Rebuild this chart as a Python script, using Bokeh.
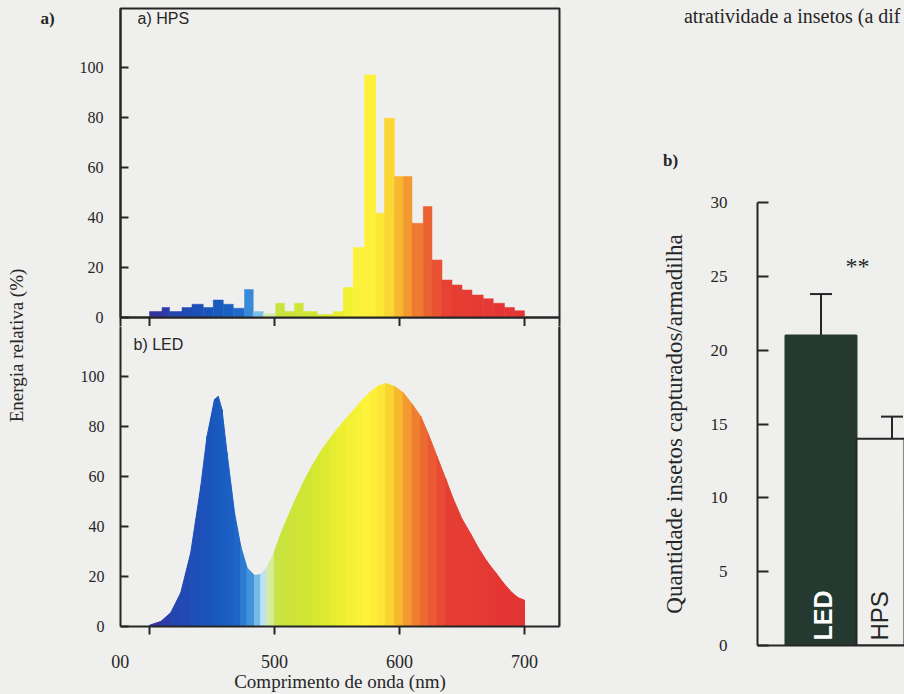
import math
import numpy as np
from bokeh.plotting import figure
from bokeh.layouts import row, column
from bokeh.models import (Range1d, FixedTicker, LinearAxis, Label, ColumnDataSource,
                          Whisker, TeeHead, Span)
from bokeh.core.properties import value
from bokeh.embed import file_html
from bokeh.resources import INLINE

# ---------------- data ----------------
# HPS spectrum: histogram bins (nm edges) and relative energy (%)
hps_edges = [400, 410, 416, 426, 434, 443, 451, 459, 467, 476, 483, 491, 501, 508, 516,
             523, 534, 541, 547, 555, 563, 572, 581, 588, 596, 603, 610, 619, 626, 634,
             642, 650, 658, 667, 675, 684, 692, 700]
hps_energy = [2.4, 4, 2.4, 4, 5.3, 4, 7, 5.3, 3.7, 11.2,
              2.4, 1.5, 5.7, 2.4, 5.7, 2.4, 1.2, 1.2, 2.4, 12,
              28, 97, 41.7, 79.7, 56.4, 56.4, 37.7, 44.4, 23, 15,
              13, 11, 9, 7.5, 5.7, 4, 2.7]

# LED spectrum: wavelength (nm) and relative energy (%)
led_wavelength = [400, 409, 417, 425, 433, 441, 446, 452, 455, 458, 462, 468, 473, 478,
                  484, 489, 494, 500, 505, 510, 517, 524, 531, 537, 544, 550, 557, 564,
                  570, 577, 583, 589, 596, 603, 610, 617, 623, 630, 637, 643, 650, 657,
                  663, 670, 677, 683, 690, 695, 700]
led_energy = [0.5, 2, 5.5, 13.5, 29.5, 56, 76, 90.8, 92, 86.8, 69.5, 45.5, 32, 23.5,
              20.4, 20.8, 23.5, 30, 37, 43, 51, 58.5, 65, 70, 75, 78.8, 83, 87,
              90.5, 94, 96.2, 97.2, 96, 93.5, 89, 84, 77, 68, 59, 51, 43, 37,
              31.5, 26, 21.5, 17.5, 13.5, 11.5, 10.5]

wl_ticks = [400, 500, 600, 700]
energy_ticks = [0, 20, 40, 60, 80, 100]

# insects captured per trap
bar_categories = ["LED", "HPS"]
bar_values = [21, 14]
bar_err_low = [18.2, 12.5]
bar_err_high = [23.8, 15.5]
count_ticks = [0, 5, 10, 15, 20, 25, 30]

# ---------------- style ----------------
BG = "#efefed"
INK = "#262626"
SERIF = "Liberation Serif"
SANS = "Liberation Sans"

stop_nm = [400, 420, 450, 470, 480, 487, 492, 497, 503, 530, 555, 575, 590, 600, 610, 622, 640, 700]
stop_hex = ["#3a2f9c", "#2445b0", "#1a56bc", "#1c64c6", "#3a8cda", "#7cc0ea", "#c6e6f2",
            "#d6ec9a", "#c8e23e", "#d2e632", "#eef030", "#fff33c", "#fbe034", "#f7b52e",
            "#f18a30", "#eb6232", "#e63e33", "#e33434"]
stop_rgb = np.array([[int(h[i:i + 2], 16) for i in (1, 3, 5)] for h in stop_hex], dtype=float)


def wl_color(nm):
    r, g, b = (int(round(np.interp(nm, stop_nm, stop_rgb[:, k]))) for k in range(3))
    return "#%02x%02x%02x" % (r, g, b)


def style_axis(ax, size, tick_in, tick_out, standoff):
    ax.axis_line_color = INK
    ax.axis_line_width = 2
    ax.major_tick_line_color = INK
    ax.major_tick_line_width = 2
    ax.major_tick_in = tick_in
    ax.major_tick_out = tick_out
    ax.minor_tick_line_color = None
    ax.major_label_text_font = SERIF
    ax.major_label_text_font_size = f"{size}px"
    ax.major_label_text_color = INK
    ax.major_label_standoff = standoff


def bare_axis(ax):
    # axis line only: no ticks, no labels
    style_axis(ax, 1, 0, 0, 0)
    ax.major_tick_line_color = None
    ax.major_label_text_font_size = "0px"
    ax.major_label_text_color = None


def base_fig(**kw):
    p = figure(output_backend="svg", toolbar_location=None, frame_align=False,
               background_fill_color=BG, border_fill_color=BG, **kw)
    p.grid.visible = False
    return p


def text_fig(w, h):
    # a bare canvas (no axes) that only carries free-standing texts, in pixel coordinates
    p = base_fig(width=w, height=h, x_range=Range1d(0, w), y_range=Range1d(h, 0),
                 x_axis_location=None, y_axis_location=None,
                 min_border_left=0, min_border_right=0, min_border_top=0, min_border_bottom=0)
    p.outline_line_color = None
    return p


STRIP = 62
XR = (376.8, 728)   # wavelength window shown by both spectrum panels

# ---------------- left text strip ----------------
strip = text_fig(STRIP, 694)
strip.add_layout(Label(x=47, y=18, text="a)", text_font=SERIF, text_font_size="17px",
                       text_font_style="bold", text_color=INK, text_baseline="middle",
                       text_align="center"))
strip.add_layout(Label(x=16, y=345, text="Energia relativa (%)", text_font=SERIF,
                       text_font_size="19px", text_color=INK, angle=math.pi / 2,
                       text_baseline="middle", text_align="center"))

# ---------------- HPS panel ----------------
hps = base_fig(width=600 - STRIP, height=326, x_range=Range1d(*XR), y_range=Range1d(0, 123.6),
               min_border_left=120 - STRIP, min_border_right=41,
               min_border_top=8, min_border_bottom=9)
hps.outline_line_color = INK
hps.outline_line_width = 2
edges = np.array(hps_edges, dtype=float)
centers = (edges[:-1] + edges[1:]) / 2
hps_src = ColumnDataSource(dict(left=edges[:-1], right=edges[1:], top=hps_energy,
                                color=[wl_color(c) for c in centers]))
hps.quad(left="left", right="right", bottom=0, top="top", source=hps_src,
         fill_color="color", line_color="color", line_width=0.5)
hps.yaxis.ticker = FixedTicker(ticks=energy_ticks)
style_axis(hps.yaxis[0], 16, 8, 0, 17)
# bottom axis: ticks pointing down into the LED panel; the two end ticks join the frames
hps.xaxis.ticker = FixedTicker(ticks=[XR[0]] + wl_ticks + [XR[1]])
style_axis(hps.xaxis[0], 1, 0, 9, 0)
hps.xaxis.major_label_text_font_size = "0px"
hps.xaxis.major_label_text_color = None
hps.add_layout(Label(x=390.4, y=119.6, text="a) HPS", text_font=SANS, text_font_size="16px",
                     text_color=INK, text_baseline="middle", text_align="left"))

# ---------------- LED panel ----------------
led = base_fig(width=600 - STRIP, height=694 - 326, x_range=Range1d(*XR),
               y_range=Range1d(0, 120), min_border_left=120 - STRIP, min_border_right=41,
               min_border_top=0, min_border_bottom=68)
led.outline_line_color = None
xs, ys, cols = [], [], []
for i in range(len(led_wavelength) - 1):
    w0, w1 = led_wavelength[i], led_wavelength[i + 1]
    xs.append([w0, w0, w1, w1])
    ys.append([0, led_energy[i], led_energy[i + 1], 0])
    cols.append(wl_color((w0 + w1) / 2))
led.patches(xs="xs", ys="ys", source=ColumnDataSource(dict(xs=xs, ys=ys, color=cols)),
            fill_color="color", line_color="color", line_width=1)
led.yaxis.ticker = FixedTicker(ticks=energy_ticks)
style_axis(led.yaxis[0], 16, 8, 0, 16)
led.xaxis.ticker = FixedTicker(ticks=wl_ticks)
style_axis(led.xaxis[0], 18, 0, 8, 17)
# the reference shows the first label cropped to "00", sitting left of its tick
led.xaxis.major_label_overrides = {400: "00" + "\u00a0" * 13}
led.xaxis.axis_label = "Comprimento de onda (nm)"
led.xaxis.axis_label_text_font = SERIF
led.xaxis.axis_label_text_font_size = "19px"
led.xaxis.axis_label_text_font_style = "normal"
led.xaxis.axis_label_text_color = INK
led.xaxis.axis_label_standoff = -4
right_ax = LinearAxis(ticker=FixedTicker(ticks=[]))
bare_axis(right_ax)
led.add_layout(right_ax, "right")
led.add_layout(Span(location=XR[1], dimension="height", line_color=INK, line_width=2))
led.add_layout(Label(x=387.2, y=112.8, text="b) LED", text_font=SANS, text_font_size="16px",
                     text_color=INK, text_baseline="middle", text_align="left"))

# ---------------- bar chart ----------------
TOPH = 175
top_txt = text_fig(304, TOPH)
top_txt.add_layout(Label(x=70, y=160, text="b)", text_font=SERIF, text_font_size="17px",
                         text_font_style="bold", text_color=INK, text_baseline="middle",
                         text_align="center"))
top_txt.add_layout(Label(x=300, y=15, text="atratividade a insetos (a dif", text_font=SERIF,
                         text_font_size="20px", text_color=INK, text_baseline="alphabetic",
                         text_align="right"))

bar = base_fig(width=304, height=694 - TOPH, x_range=Range1d(0.106, 2.176),
               y_range=Range1d(0, 30), min_border_left=157, min_border_right=0,
               min_border_top=202 - TOPH, min_border_bottom=49)
bar.outline_line_color = None
bx = list(range(1, len(bar_categories) + 1))
bar_src = ColumnDataSource(dict(
    x=bx, top=bar_values, lower=bar_err_low, upper=bar_err_high, cat=bar_categories,
    fill=["#243a30", BG], line=["#243a30", INK], tcol=["#ffffff", INK],
    tstyle=["bold", "normal"], tsize=["25px", "24px"], txoff=[2, -13], base=[0] * len(bx)))
bar.vbar(x="x", top="top", width=1.0, bottom=0, source=bar_src, fill_color="fill",
         line_color="line", line_width=2)
bar.add_layout(Whisker(base="x", lower="lower", upper="upper", source=bar_src,
                       line_color=INK, line_width=2,
                       upper_head=TeeHead(size=22, line_color=INK, line_width=2),
                       lower_head=TeeHead(size=22, line_color=INK, line_width=2)))
bar.text(x="x", y="base", text="cat", source=bar_src, angle=math.pi / 2, y_offset=-5,
         x_offset="txoff", text_font=value(SANS), text_font_size="tsize",
         text_font_style="tstyle", text_color="tcol", text_align="left",
         text_baseline="middle")
bar.yaxis.ticker = FixedTicker(ticks=count_ticks)
style_axis(bar.yaxis[0], 17, 11, 0, 30)
bar.yaxis.axis_label = "Quantidade insetos capturados/armadilha"
bar.yaxis.axis_label_text_font = SERIF
bar.yaxis.axis_label_text_font_size = "23px"
bar.yaxis.axis_label_text_font_style = "normal"
bar.yaxis.axis_label_text_color = INK
bar.yaxis.axis_label_standoff = 21
bar.xaxis.ticker = FixedTicker(ticks=[])
bare_axis(bar.xaxis[0])

bar.add_layout(Label(x=1.514, y=25.73, text="**", text_font=SERIF, text_font_size="24px",
                     text_color=INK, text_baseline="middle", text_align="center"))

bgstyle = {"background-color": BG}
layout = row(row(strip, column(hps, led, styles=bgstyle), styles=bgstyle),
             column(top_txt, bar, styles=bgstyle), styles=bgstyle)
open("out.html", "w").write(file_html(layout, INLINE))
